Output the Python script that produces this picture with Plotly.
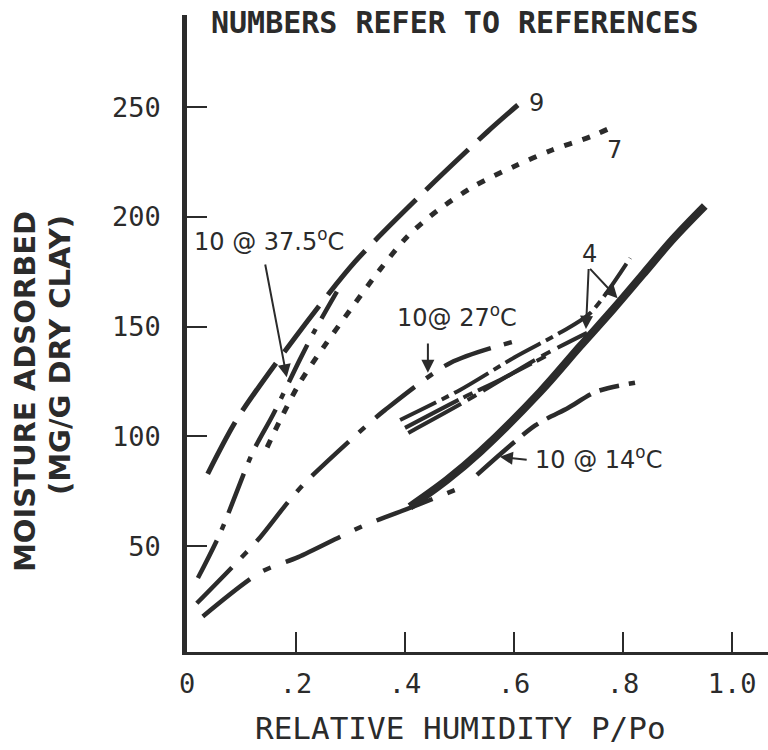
import plotly.graph_objects as go

# ---- data ----
ref9_x = [0.038, 0.092, 0.198, 0.308, 0.433, 0.552, 0.607]
ref9_y = [83, 108, 145, 179.5, 211, 239, 251]

ref7_x = [0.147, 0.171, 0.207, 0.250, 0.299, 0.354, 0.404, 0.460, 0.530, 0.600, 0.670, 0.740, 0.772]
ref7_y = [95, 107.5, 124.5, 140.5, 157.5, 176, 191, 203, 214.5, 223, 230.5, 236.5, 240]

ref10_375_x = [0.020, 0.061, 0.121, 0.158, 0.207, 0.235, 0.275]
ref10_375_y = [35.5, 56, 93, 110, 135, 148.5, 166]

ref10_27_x = [0.018, 0.083, 0.134, 0.185, 0.217, 0.314, 0.363, 0.483, 0.596]
ref10_27_y = [24, 40.5, 54, 70, 79, 101.5, 112, 133.5, 143]

ref10_14_low_x = [0.029, 0.134, 0.204, 0.321, 0.415, 0.501]
ref10_14_low_y = [18, 38, 45, 59, 68, 76.5]
ref10_14_up_x = [0.532, 0.639, 0.699, 0.752, 0.822]
ref10_14_up_y = [82.5, 105, 113, 120.5, 124.5]

thick_x = [0.409, 0.477, 0.538, 0.648, 0.721, 0.782, 0.837, 0.892, 0.950]
thick_y = [68, 80.2, 93, 120.3, 141, 158, 174, 190, 205]

ref4a_x = [0.391, 0.501, 0.602, 0.684, 0.739, 0.813]
ref4a_y = [107.5, 121.2, 136.2, 147.2, 156, 181.3]
ref4b_x = [0.400, 0.505, 0.574, 0.662]
ref4b_y = [103.9, 117.5, 125.7, 137.1]
ref4c_x = [0.406, 0.506, 0.648, 0.734]
ref4c_y = [101.6, 115.3, 136.2, 147.2]

x_ticks = [0, 0.2, 0.4, 0.6, 0.8, 1.0]
x_tick_text = ["0", ".2", ".4", ".6", ".8", "1.0"]
y_ticks = [50, 100, 150, 200, 250]
y_tick_text = ["50", "100", "150", "200", "250"]

INK = "#2b2b2b"
FONT = "DejaVu Sans"
MONO = "DejaVu Sans Mono"

fig = go.Figure()

def add(x, y, width, dash, smoothing=0.8):
    fig.add_trace(go.Scatter(x=x, y=y, mode="lines", line=dict(color=INK, width=width, dash=dash, shape="spline", smoothing=smoothing), hoverinfo="skip", showlegend=False))

add(ref9_x, ref9_y, 5, "58px,14px")
add(ref7_x, ref7_y, 5, "8px,11px")
add(ref10_375_x, ref10_375_y, 4.5, "42px,12px,6px,12px")
add(ref10_27_x, ref10_27_y, 4.5, "50px,14px,8px,14px")
add(ref10_14_low_x, ref10_14_low_y, 4.5, "60px,16px,8px,16px")
add(ref10_14_up_x, ref10_14_up_y, 4.5, "50px,10px,20px,10px")
add(thick_x, thick_y, 8, "solid", 1.0)
add(ref4a_x, ref4a_y, 4, "40px,6px,8px,6px")
add(ref4b_x, ref4b_y, 4, "60px,6px,10px,6px")
add(ref4c_x, ref4c_y, 4, "60px,8px,10px,8px")

def label(x, y, text, size=24, family=FONT):
    fig.add_annotation(x=x, y=y, text=text, showarrow=False, font=dict(family=family, size=size, color=INK))

def arrow(x0, y0, x1, y1):
    fig.add_annotation(x=x1, y=y1, ax=x0, ay=y0, axref="x", ayref="y", text="", showarrow=True,
                       arrowhead=2, arrowsize=1.3, arrowwidth=2, arrowcolor=INK)

label(0.150, 189.5, "10 @ 37.5<sup>o</sup>C")
arrow(0.143, 179, 0.183, 127)
label(0.495, 155, "10@ 27<sup>o</sup>C")
arrow(0.442, 143, 0.442, 129)
label(0.755, 90, "10 @ 14<sup>o</sup>C")
arrow(0.626, 89.3, 0.574, 90.7)
label(0.642, 252, "9")
label(0.785, 230.5, "7")
label(0.739, 183, "4")
arrow(0.737, 177, 0.732, 149)
arrow(0.737, 177, 0.790, 163)

fig.update_layout(
    width=768, height=750,
    margin=dict(l=187, r=0, t=15, b=98),
    paper_bgcolor="white", plot_bgcolor="white",
    xaxis=dict(range=[0, 1.066], tickvals=x_ticks, ticktext=x_tick_text, showgrid=False, zeroline=False,
               showline=True, linecolor=INK, linewidth=3, ticks="inside", ticklen=20, tickwidth=2,
               tickcolor=INK, tickfont=dict(family=MONO, size=27, color=INK), ticklabelstandoff=6),
    yaxis=dict(range=[1.8, 292], tickvals=y_ticks, ticktext=y_tick_text, showgrid=False, zeroline=False,
               showline=True, linecolor=INK, linewidth=4.5, ticks="inside", ticklen=20, tickwidth=2,
               tickcolor=INK, tickfont=dict(family=MONO, size=27, color=INK), ticklabelstandoff=16),
)

fig.add_annotation(xref="paper", yref="paper", x=(455 - 187) / 581, y=(652 - 23) / 637, yanchor="middle",
                   text="NUMBERS REFER TO REFERENCES", showarrow=False,
                   font=dict(family=MONO, size=30, color=INK, weight="bold"))
fig.add_annotation(xref="paper", yref="paper", x=(460 - 187) / 581, y=-(728 - 652) / 637, yanchor="middle",
                   text="RELATIVE HUMIDITY P/Po", showarrow=False,
                   font=dict(family=MONO, size=31, color=INK))
fig.add_annotation(xref="paper", yref="paper", x=-(187 - 25) / 581, y=(652 - 392) / 637, xanchor="center",
                   text="MOISTURE ADSORBED", textangle=-90, showarrow=False,
                   font=dict(family=FONT, size=29, color=INK, weight="bold"))
fig.add_annotation(xref="paper", yref="paper", x=-(187 - 60) / 581, y=(652 - 355) / 637, xanchor="center",
                   text="(MG/G DRY CLAY)", textangle=-90, showarrow=False,
                   font=dict(family=FONT, size=29, color=INK, weight="bold"))

fig.write_html("out.html")
